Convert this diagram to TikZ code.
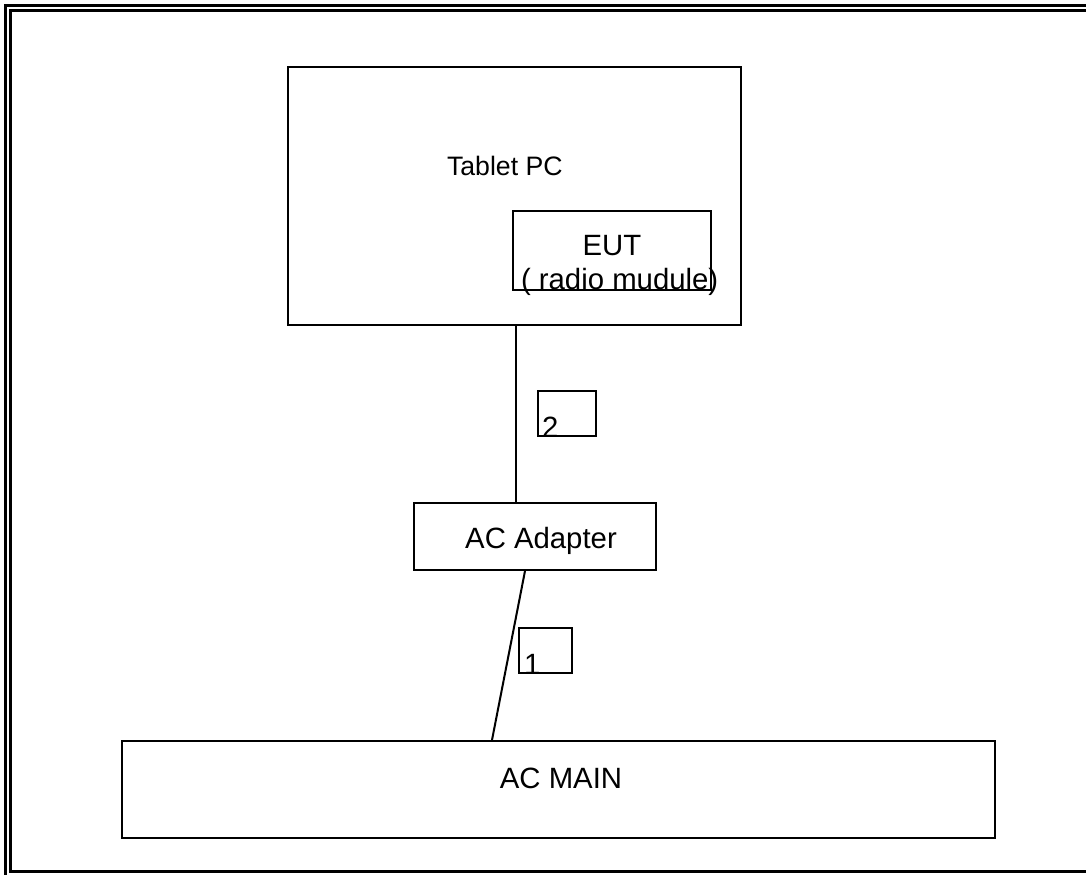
\documentclass[tikz,border=0pt]{standalone}
\usepackage{fontspec}
\setmainfont{Liberation Sans}
\usetikzlibrary{fit,calc}
\tikzset{every picture/.style={line width=1.5pt}}
\tikzset{
  unitbox/.style={draw, inner sep=0pt},
  frameline/.style={line width=2.25pt},
  tag/.style={anchor=base west, inner sep=0pt, font=\fontsize{22}{26}\selectfont},
  caption/.style={anchor=base, inner sep=0pt, font=\fontsize{22}{26}\selectfont}
}

\begin{document}
\begin{tikzpicture}[x=0.75pt,y=0.75pt,yscale=-1,xscale=1]
\useasboundingbox (0,0) rectangle (1086,875);

%Shape: Double frame
\draw [frameline] (5,5) rectangle (1093,877);
\draw [frameline] (10,10) rectangle (1088,871);

%Shape: Rectangle, tablet
\node [unitbox, fit={(288,67) (741,325)}] (tablet) {};
%Shape: Rectangle, radio module
\node [unitbox, fit={(513,211) (711,290)}] (eut) {};
%Shape: Rectangle, adapter
\node [unitbox, fit={(414,503) (656,570)}] (adapter) {};
%Shape: Rectangle, mains
\node [unitbox, fit={(122,741) (995,838)}] (acmain) {};
%Shape: Rectangle, cable 2
\node [unitbox, fit={(538,391) (596,436)}] (cable2) {};
%Shape: Rectangle, cable 1
\node [unitbox, fit={(519,628) (572,673)}] (cable1) {};

%Straight Lines, tablet to adapter
\path (adapter.north west) ++(103,0) coordinate (dcin);
\draw (dcin) -- (dcin |- tablet.south);
%Straight Lines, adapter to mains
\draw ($(adapter.south west)+(112,0)$) -- ($(acmain.north west)+(371,0)$);

% Text Node
\node [tag, font=\fontsize{20}{24}\selectfont] (tablettext) at (446,175) {Tablet PC};
% Text Node
\node [caption] (euttext) at (612,255) {EUT};
% Text Node
\node [tag] (radiotext) at (520,289) {( radio mudule)};
% Text Node
\node [caption] (adaptertext) at (541,548) {AC Adapter};
% Text Node
\node [caption] (maintext) at (561,788) {AC MAIN};
% Text Node
\node [tag] (two) at ($(cable2.south west)+(4,0)$) {2};
% Text Node
\node [tag] (one) at ($(cable1.south west)+(5,0)$) {1};

\end{tikzpicture}
\end{document}
